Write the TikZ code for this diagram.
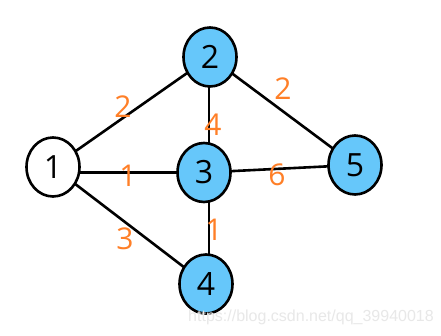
\documentclass[tikz,border=0pt]{standalone}
\usepackage{fontspec}
\setmainfont{Open Sans}
\newfontfamily\wmfont{Liberation Sans}
\usetikzlibrary{shapes.geometric,backgrounds}
\definecolor{nodeblue}{RGB}{102,199,250}
\definecolor{wlabel}{RGB}{255,127,39}
\begin{document}
\begin{tikzpicture}[x=1pt,y=-1pt,
  vert/.style={ellipse,draw=black,line width=2.6pt,minimum width=53pt,minimum height=59pt,inner sep=0pt,font=\fontsize{32}{32}\selectfont},
  bluev/.style={vert,fill=nodeblue},
  edge/.style={draw=black,line width=2.6pt},
  wt/.style={text=wlabel,font=\fontsize{30}{30}\selectfont,inner sep=0pt}]
\useasboundingbox (0,0) rectangle (441,336);
\node[vert,fill=white] (n1) at (53,167) {1};
\node[bluev] (n2) at (210,57) {2};
\node[bluev] (n3) at (204,172.5) {3};
\node[bluev] (n4) at (206,284) {4};
\node[bluev] (n5) at (355,165) {5};
\coordinate (v2) at (209,57);
\coordinate (v4) at (209,284);
\coordinate (h1) at (53,172.5);
\begin{scope}[on background layer]
\fill[white] (0,0) rectangle (441,336);
\draw[edge] (n1.center) -- (n2.center);
\draw[edge] (h1) -- (n3.center);
\draw[edge] (n1.center) -- (n4.center);
\draw[edge] (v2) -- (v4);
\draw[edge] (n2.center) -- (n5.center);
\draw[edge] (n3.center) -- (n5.center);
\end{scope}
\node[wt] (w12) at (123,107) {2};
\node[wt] (w13) at (128,176) {1};
\node[wt] (w14) at (125,239) {3};
\node[wt] (w23) at (213,125) {4};
\node[wt] (w25) at (283,89) {2};
\node[wt] (w35) at (277,175) {6};
\node[wt] (w34) at (214,230) {1};
\node[text=gray!18,font=\wmfont\fontsize{16}{16}\selectfont,inner sep=0pt] (wm) at (311,317) {https://blog.csdn.net/qq\_39940018};
\end{tikzpicture}
\end{document}
